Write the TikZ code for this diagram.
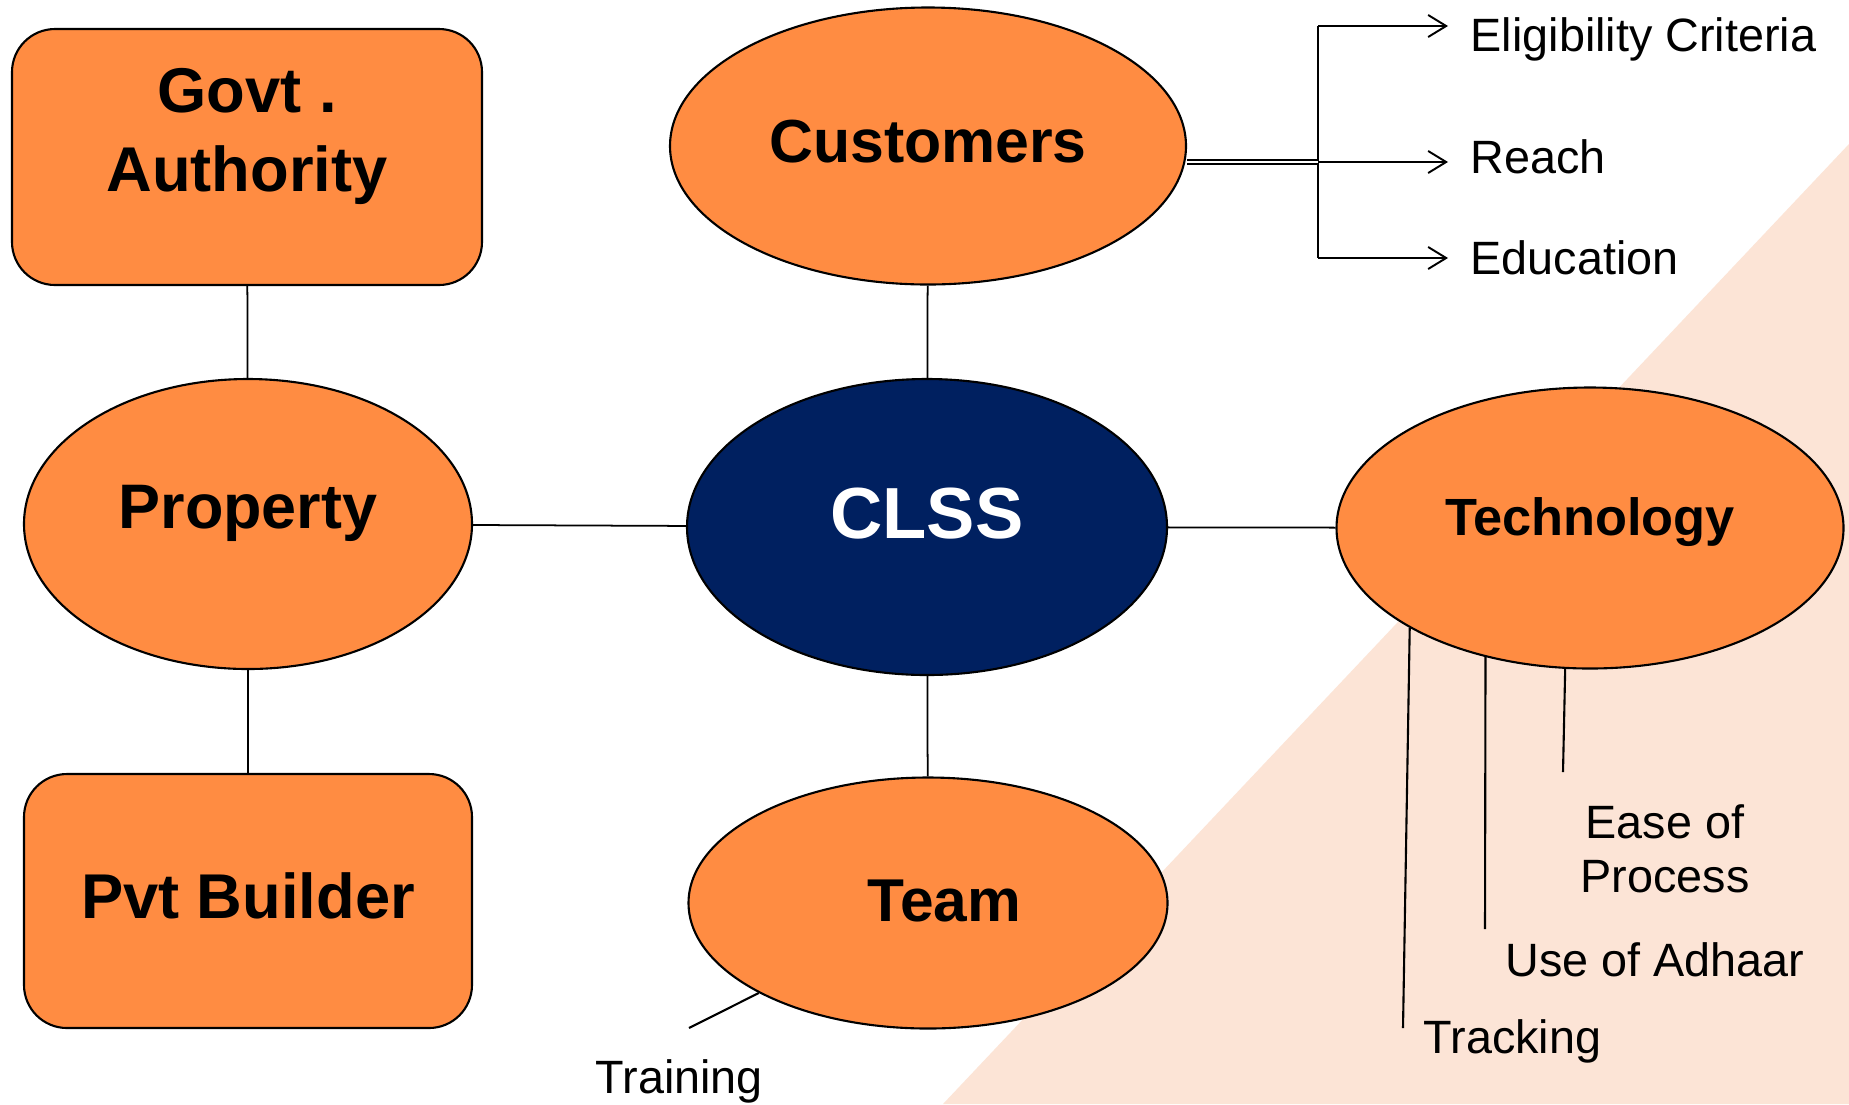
\documentclass[tikz,border=0pt]{standalone}
\usepackage{fontspec}
\setmainfont{Liberation Sans}
\usetikzlibrary{shapes.geometric,arrows.meta}

\definecolor{boxorange}{HTML}{FF8C42}
\definecolor{clssblue}{HTML}{002060}
\definecolor{peach}{HTML}{FCE4D6}

\newcommand{\nodesize}[2]{\fontsize{#1}{#2}\selectfont}

\tikzset{
  mindmap/.style={
    x=0.1mm, y=-0.1mm,
    bubble/.style={
        ellipse,
        draw=black,
        fill=boxorange,
        line width=0.6pt,
        inner sep=0pt,
    },
    panel/.style={
        rectangle,
        rounded corners=4.3mm,
        draw=black,
        fill=boxorange,
        line width=0.6pt,
        inner sep=0pt,
        align=center,
    },
    leaf/.style={
        anchor=west,
        inner sep=0pt,
        font=\nodesize{13.3pt}{15.4pt},
        text depth=0pt,
    },
    link/.style={line width=0.5pt},
    twig/.style={line width=0.6pt},
    arr/.style={
        line width=0.55pt,
        -{Straight Barb[length=1.8mm,width=2.2mm]},
        shorten >=2.2mm,
    },
  }
}

\begin{document}
\begin{tikzpicture}[mindmap]
    \useasboundingbox (0,0) rectangle (1849,1104);
    \fill[white] (0,0) rectangle (1849,1104);
    \fill[peach] (943,1104) -- (1849,144) -- (1849,1104) -- cycle;

    % main shapes
    \node[bubble, fill=clssblue, text=white, minimum width=48mm, minimum height=29.6mm,
          font=\bfseries\nodesize{20.6pt}{24pt}, text depth=2.8mm] (clss) at (927,527) {CLSS};
    \node[bubble, minimum width=51.6mm, minimum height=27.7mm,
          font=\bfseries\nodesize{17.3pt}{21pt}, text depth=1mm] (cust) at (928,146) {Customers};
    \node[bubble, minimum width=44.8mm, minimum height=29mm,
          font=\bfseries\nodesize{17.9pt}{21pt}, text depth=3.4mm] (prop) at (248,524) {Property};
    \node[bubble, minimum width=50.7mm, minimum height=28.1mm,
          font=\bfseries\nodesize{14.9pt}{18pt}, text depth=2.3mm] (tech) at (1590,528) {Technology};
    \node[bubble, minimum width=47.9mm, minimum height=25.1mm,
          font=\bfseries\nodesize{17.2pt}{21pt}, text depth=0.5mm] (team) at (928,903) {\hspace*{3.3mm}Team};
    \node[panel, minimum width=47mm, minimum height=25.6mm,
          font=\bfseries\nodesize{18pt}{22.5pt}] (govt) at (247,157) {Govt .\\Authority\\[-2.5mm]\mbox{}};
    \node[panel, minimum width=44.8mm, minimum height=25.4mm,
          font=\bfseries\nodesize{18pt}{22.5pt}, text depth=1mm] (pvt) at (248,901) {Pvt Builder};

    \draw[link] (govt) -- (prop);
    \draw[link] (prop) -- (pvt);
    \draw[link] (prop) -- (clss);
    \draw[link] (clss) -- (tech);
    \draw[link] (cust) -- (clss);
    \draw[link] (clss) -- (team);

    % customer branches
    \node[leaf] (elig) at (1470,35) {Eligibility Criteria};
    \node[leaf] (reach) at (1470,157) {Reach};
    \node[leaf] (edu) at (1470,258) {Education};
    \coordinate (trunkTop) at (1318,26);
    \coordinate (trunkMid) at (1318,162);
    \coordinate (trunkBot) at (1318,258);
    \draw[twig] (trunkTop) -- (trunkBot);
    \draw[line width=0.6pt, double, double distance=0.25mm] (cust.east |- trunkMid) -- (trunkMid);
    \draw[arr] (trunkTop) -- (trunkTop -| elig.west);
    \draw[arr] (trunkMid) -- (trunkMid -| reach.west);
    \draw[arr] (trunkBot) -- (trunkBot -| edu.west);

    % technology branches
    \node[leaf] (track) at (1423,1037) {Tracking};
    \node[leaf] (adhaar) at (1505,960) {Use of Adhaar};
    \node[leaf, anchor=center, align=center, text depth={}] (ease) at (1665,849) {Ease of\\Process};
    \coordinate (trackEnd) at (1403,1028);
    \coordinate (adhaarEnd) at (1485,929);
    \coordinate (easeEnd) at (1563,772);
    \draw[twig] (tech.-151) -- (trackEnd);
    \draw[twig] (tech.-129.4) -- (adhaarEnd);
    \draw[twig] (tech.-100.9) -- (easeEnd);

    % team branch
    \node[leaf] (train) at (595,1077) {Training};
    \coordinate (trainEnd) at (689,1028);
    \draw[twig] (team.-152.1) -- (trainEnd);
\end{tikzpicture}
\end{document}
